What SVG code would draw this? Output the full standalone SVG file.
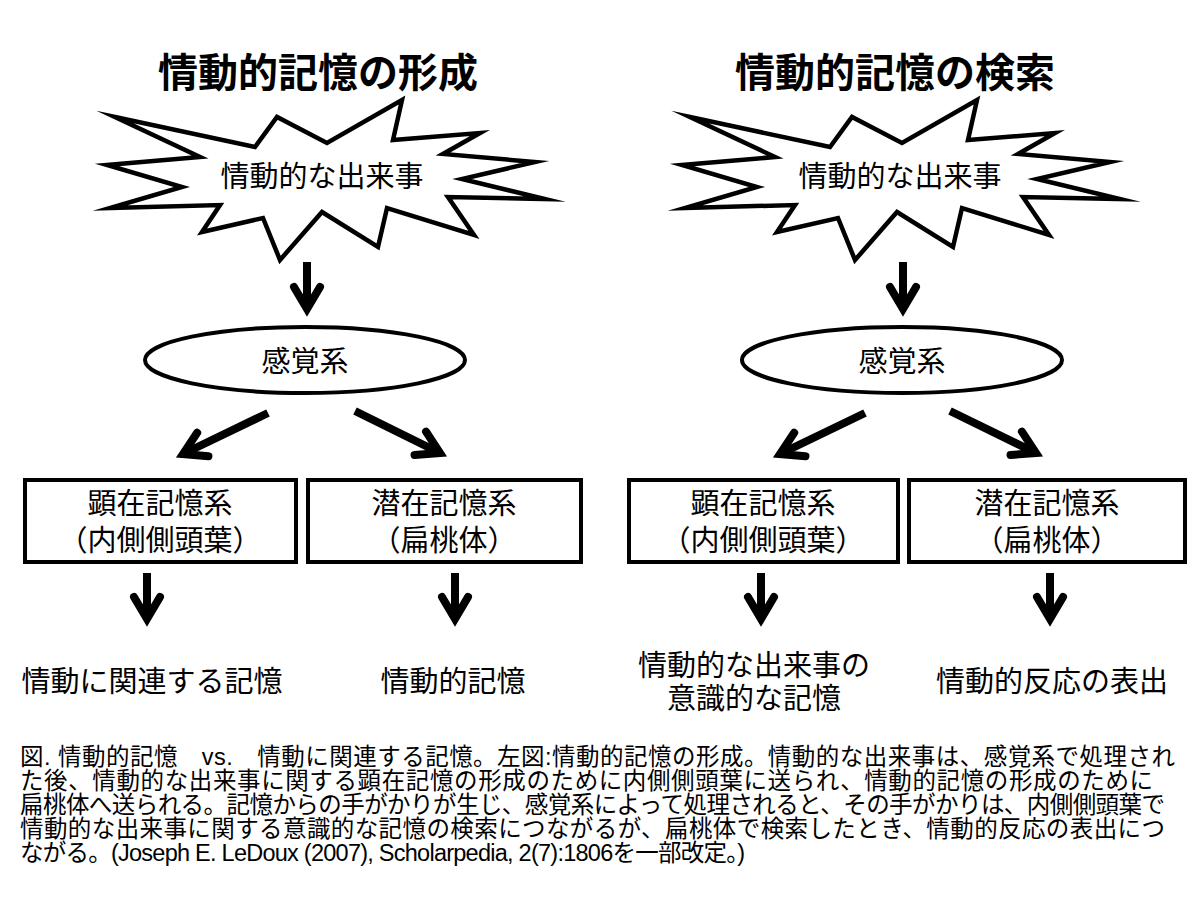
<svg xmlns="http://www.w3.org/2000/svg" xmlns:xlink="http://www.w3.org/1999/xlink" width="1200" height="900" viewBox="0 0 1200 900">
<style>
.burst{fill:#fff;stroke:#000;stroke-width:4.5;stroke-linejoin:miter;stroke-miterlimit:40}
.ell{fill:#fff;stroke:#000;stroke-width:4}
.box{fill:#fff;stroke:#000;stroke-width:4}
.lbl{font-family:"Liberation Sans","Noto Sans CJK JP","Noto Sans CJK SC",sans-serif;font-size:29px;fill:#000;text-anchor:middle}
.title{font-family:"Noto Sans CJK JP","Noto Sans CJK SC",sans-serif;font-size:40px;font-weight:bold;fill:#000;text-anchor:middle}
.cap{font-family:"Liberation Sans","Noto Sans CJK JP",sans-serif;font-size:23.5px;fill:#000}
.arr{stroke:#000;stroke-width:8;fill:none;marker-end:url(#ah)}
</style>
<defs>
<marker id="ah" markerUnits="userSpaceOnUse" viewBox="-40 -30 60 60" markerWidth="60" markerHeight="60" refX="0" refY="0" orient="auto">
<path d="M-22,-13 L0,0 L-22,13" fill="none" stroke="#000" stroke-width="8" stroke-linecap="round" stroke-linejoin="miter" stroke-miterlimit="10"/>
</marker>
<polygon id="burstShape" points="115,117 255,147 277,117 327,143 402,100 393,140 480,133 443,154 535,162 462,179 545,199 448,197 474,235 387,208 378,247 322,212 280,260 263,218 202,232 220,205 110,208 182,187 107,165 200,157"/>
</defs>
<rect x="0" y="0" width="1200" height="900" fill="#fff"/>

<g id="title-left"><text class="title" x="318" y="87">情動的記憶の形成</text></g>
<g id="title-right"><text class="title" x="895" y="87">情動的記憶の検索</text></g>

<g id="event-left">
<use xlink:href="#burstShape" class="burst"/>
<text class="lbl" x="322" y="187">情動的な出来事</text>
</g>
<g id="event-right">
<use xlink:href="#burstShape" class="burst" transform="translate(575,0)"/>
<text class="lbl" x="900" y="187">情動的な出来事</text>
</g>

<g id="sensory-left">
<ellipse class="ell" cx="305" cy="360" rx="160" ry="33"/>
<text class="lbl" x="305" y="372">感覚系</text>
</g>
<g id="sensory-right">
<ellipse class="ell" cx="902" cy="360" rx="160" ry="33"/>
<text class="lbl" x="902" y="372">感覚系</text>
</g>

<g id="explicit-left">
<rect class="box" x="25" y="480" width="271" height="82"/>
<text class="lbl" x="160" y="514">顕在記憶系<tspan x="160" dy="37">（内側側頭葉）</tspan></text>
</g>
<g id="implicit-left">
<rect class="box" x="308" y="480" width="273" height="82"/>
<text class="lbl" x="444" y="514">潜在記憶系<tspan x="444" dy="37">（扁桃体）</tspan></text>
</g>
<g id="explicit-right">
<rect class="box" x="629" y="480" width="269" height="82"/>
<text class="lbl" x="763" y="514">顕在記憶系<tspan x="763" dy="37">（内側側頭葉）</tspan></text>
</g>
<g id="implicit-right">
<rect class="box" x="909" y="480" width="276" height="82"/>
<text class="lbl" x="1047" y="514">潜在記憶系<tspan x="1047" dy="37">（扁桃体）</tspan></text>
</g>

<g id="out-left-1"><text class="lbl" x="152" y="692">情動に関連する記憶</text></g>
<g id="out-left-2"><text class="lbl" x="453" y="692">情動的記憶</text></g>
<g id="out-right-1">
<text class="lbl" x="754" y="676">情動的な出来事の<tspan x="754" dy="33">意識的な記憶</tspan></text>
</g>
<g id="out-right-2"><text class="lbl" x="1052" y="692">情動的反応の表出</text></g>

<g id="connectors">
<path class="arr" d="M307,262 L307,309"/>
<path class="arr" d="M903,262 L903,309"/>
<path class="arr" d="M268,413 L183,454"/>
<path class="arr" d="M355,411 L440,453"/>
<path class="arr" d="M865,413 L780,454"/>
<path class="arr" d="M950,411 L1036,453"/>
<path class="arr" d="M147,573 L147,619"/>
<path class="arr" d="M455,573 L455,619"/>
<path class="arr" d="M761,573 L761,619"/>
<path class="arr" d="M1050,573 L1050,619"/>
</g>

<g id="caption">
<text class="cap" x="20" y="765" textLength="1155" lengthAdjust="spacing">図. 情動的記憶　vs.　情動に関連する記憶。左図:情動的記憶の形成。情動的な出来事は、感覚系で処理され</text>
<text class="cap" x="20" y="789" textLength="1133" lengthAdjust="spacing">た後、情動的な出来事に関する顕在記憶の形成のために内側側頭葉に送られ、情動的記憶の形成のために</text>
<text class="cap" x="20" y="813" textLength="1145" lengthAdjust="spacing">扁桃体へ送られる。記憶からの手がかりが生じ、感覚系によって処理されると、その手がかりは、内側側頭葉で</text>
<text class="cap" x="20" y="837" textLength="1145" lengthAdjust="spacing">情動的な出来事に関する意識的な記憶の検索につながるが、扁桃体で検索したとき、情動的反応の表出につ</text>
<text class="cap" x="20" y="861" textLength="725" lengthAdjust="spacing">ながる。(Joseph E. LeDoux (2007), Scholarpedia, 2(7):1806を一部改定。)</text>
</g>
</svg>
